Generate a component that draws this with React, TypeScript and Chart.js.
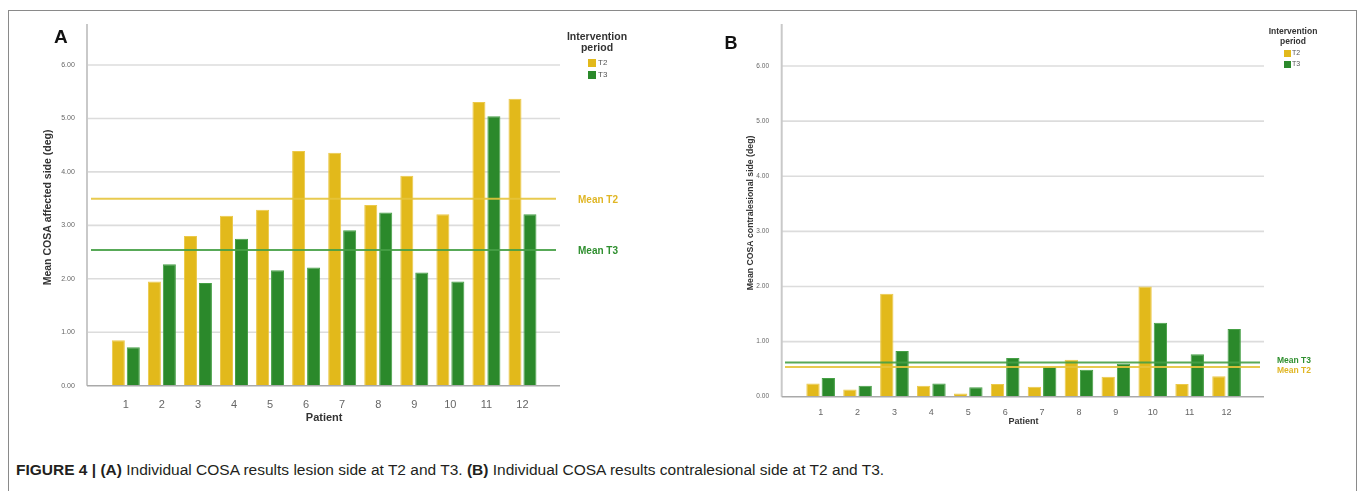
import React, { useEffect, useRef } from 'react';
import { Chart, registerables } from 'chart.js';

Chart.register(...registerables);

const FONT = "'Liberation Sans', Arial, Helvetica, sans-serif";
Chart.defaults.font.family = FONT;

// ---------- data ----------
const patients = ['1', '2', '3', '4', '5', '6', '7', '8', '9', '10', '11', '12'];
const seriesNames = ['T2', 'T3'];
const affectedT2 = [0.85, 1.95, 2.8, 3.18, 3.29, 4.39, 4.36, 3.38, 3.93, 3.21, 5.31, 5.37];
const affectedT3 = [0.72, 2.27, 1.92, 2.75, 2.16, 2.21, 2.91, 3.24, 2.12, 1.95, 5.04, 3.21];
const contraT2 = [0.24, 0.13, 1.87, 0.2, 0.06, 0.23, 0.18, 0.67, 0.36, 2.0, 0.23, 0.37];
const contraT3 = [0.34, 0.2, 0.83, 0.24, 0.17, 0.7, 0.54, 0.49, 0.6, 1.34, 0.77, 1.23];
const affectedMeans = [3.5, 2.54];
const contraMeans = [0.54, 0.62];
const meanLabels = ['Mean T2', 'Mean T3'];
const yTicks = [0, 1, 2, 3, 4, 5, 6];
const legendTitle = ['Intervention', 'period'];
const yTitleA = 'Mean COSA affected side (deg)';
const yTitleB = 'Mean COSA contralesional side (deg)';
const xTitle = 'Patient';
const panelLetters = ['A', 'B'];

const COLORS = ['#e2b91b', '#2b892b'];
const BORDERS = ['#ecc94a', '#45a045'];
const MEAN_LINE = ['rgba(230,196,60,0.9)', 'rgba(70,160,70,0.9)'];
const MEAN_TEXT = ['#e0b625', '#2f8f2f'];

const decor = {
  id: 'decor',
  beforeDatasetsDraw(chart: any, _a: any, o: any) {
    const { ctx, chartArea } = chart;
    const y = chart.scales.y;
    ctx.save();
    ctx.strokeStyle = '#dcdcdc';
    ctx.lineWidth = 1.6;
    y.ticks.forEach((t: any) => {
      if (t.value === 0) return;
      const py = y.getPixelForValue(t.value);
      ctx.beginPath();
      ctx.moveTo(o.axisX, py);
      ctx.lineTo(o.gridRight, py);
      ctx.stroke();
    });
    ctx.strokeStyle = '#c9c9c9';
    ctx.lineWidth = 2;
    ctx.beginPath();
    ctx.moveTo(o.axisX, o.axisTop);
    ctx.lineTo(o.axisX, chartArea.bottom);
    ctx.stroke();
    ctx.restore();
  },
  afterDatasetsDraw(chart: any, _a: any, o: any) {
    const { ctx, chartArea } = chart;
    const y = chart.scales.y;
    ctx.save();
    ctx.strokeStyle = '#a9a9a9';
    ctx.lineWidth = 1.6;
    ctx.beginPath();
    ctx.moveTo(o.axisX, chartArea.bottom);
    ctx.lineTo(o.gridRight, chartArea.bottom);
    ctx.stroke();
    o.means.forEach((m: number, i: number) => {
      const py = y.getPixelForValue(m);
      ctx.strokeStyle = MEAN_LINE[i];
      ctx.lineWidth = 2;
      ctx.beginPath();
      ctx.moveTo(o.meanLeft, py);
      ctx.lineTo(o.meanRight, py);
      ctx.stroke();
      ctx.fillStyle = MEAN_TEXT[i];
      ctx.font = `bold ${o.meanFont}px ${FONT}`;
      ctx.textAlign = 'left';
      ctx.textBaseline = 'middle';
      ctx.fillText(meanLabels[i], o.meanTextX, py + o.meanDy[i]);
    });
    const L = o.legend;
    ctx.fillStyle = '#333';
    ctx.font = `bold ${L.titleFont}px ${FONT}`;
    ctx.textAlign = 'center';
    ctx.textBaseline = 'middle';
    legendTitle.forEach((t, i) => ctx.fillText(t, L.cx, L.titleY[i]));
    chart.data.datasets.forEach((ds: any, i: number) => {
      ctx.fillStyle = ds.backgroundColor;
      ctx.fillRect(L.swX, L.swY[i], L.sw, L.sh);
      ctx.fillStyle = '#555';
      ctx.font = `${L.labelFont}px ${FONT}`;
      ctx.textAlign = 'left';
      ctx.fillText(ds.label, L.labelX, L.swY[i] + L.sh / 2);
    });
    ctx.fillStyle = '#111';
    ctx.font = `bold ${o.letter.size}px ${FONT}`;
    ctx.textAlign = 'left';
    ctx.textBaseline = 'alphabetic';
    ctx.fillText(o.letter.text, o.letter.x, o.letter.y);
    ctx.restore();
  },
};

function makeConfig(p: any) {
  return {
    type: 'bar',
    data: {
      labels: patients,
      datasets: p.series.map((vals: number[], i: number) => ({
        label: seriesNames[i],
        data: vals,
        backgroundColor: COLORS[i],
        borderColor: BORDERS[i],
        borderWidth: 1,
        categoryPercentage: 0.83,
        barPercentage: 0.87,
      })),
    },
    options: {
      responsive: false,
      animation: false,
      devicePixelRatio: 1,
      layout: { padding: { left: 0, top: p.top, right: p.right, bottom: p.bottom } },
      plugins: {
        legend: { display: false },
        tooltip: { enabled: false },
        decor: p.decor,
      },
      scales: {
        x: {
          type: 'category',
          offset: true,
          grid: { display: false },
          border: { display: false },
          afterFit: (s: any) => { s.height = p.xHeight; },
          ticks: { color: '#666', font: { size: p.xTickFont }, padding: p.xTickPad, maxRotation: 0 },
          title: {
            display: true,
            text: xTitle,
            color: '#333',
            font: { size: p.xTitleFont, weight: 'bold' },
            padding: { top: 0, bottom: p.xTitlePad },
          },
        },
        y: {
          min: 0,
          max: 6.67,
          grid: { display: false },
          border: { display: false },
          afterFit: (s: any) => { s.width = p.yWidth; },
          afterBuildTicks: (s: any) => { s.ticks = yTicks.map((v) => ({ value: v })); },
          ticks: {
            color: '#666',
            font: { size: p.yTickFont },
            padding: p.yTickPad,
            callback: (v: any) => Number(v).toFixed(2),
          },
          title: {
            display: true,
            text: p.yTitle,
            color: '#333',
            font: { size: p.yTitleFont, weight: 'bold' },
            padding: { top: p.yTitlePad, bottom: 0 },
          },
        },
      },
    },
    plugins: [decor],
  };
}

const panelA = {
  series: [affectedT2, affectedT3],
  top: 24,
  right: 139.5,
  bottom: 14.3,
  xHeight: 40,
  xTickFont: 11,
  xTickPad: 4.7,
  xTitleFont: 11,
  xTitlePad: 1.1,
  yWidth: 107.8,
  yTickFont: 7,
  yTickPad: 25,
  yTitle: yTitleA,
  yTitleFont: 10.5,
  yTitlePad: 42,
  decor: {
    axisX: 87,
    axisTop: 24,
    gridRight: 560,
    means: affectedMeans,
    meanLeft: 91,
    meanRight: 556,
    meanTextX: 578,
    meanDy: [1.5, 1.5],
    meanFont: 10,
    legend: { cx: 597, titleY: [37, 48], titleFont: 10.5, swX: 588, swY: [59, 71], sw: 8, sh: 8, labelX: 598, labelFont: 8 },
    letter: { text: panelLetters[0], x: 54, y: 43, size: 19 },
  },
};

const panelB = {
  series: [contraT2, contraT3],
  top: 24,
  right: 113,
  bottom: 13.3,
  xHeight: 30,
  xTickFont: 9,
  xTickPad: 2.9,
  xTitleFont: 9,
  xTitlePad: 0,
  yWidth: 122.2,
  yTickFont: 6.5,
  yTickPad: 25.2,
  yTitle: yTitleB,
  yTitleFont: 8.7,
  yTitlePad: 65.8,
  decor: {
    axisX: 101.7,
    axisTop: 24,
    gridRight: 584,
    means: contraMeans,
    meanLeft: 105,
    meanRight: 580,
    meanTextX: 597,
    meanDy: [4, -2],
    meanFont: 8.5,
    legend: { cx: 613, titleY: [32, 41.5], titleFont: 8.5, swX: 604, swY: [50, 61], sw: 7, sh: 7, labelX: 612, labelFont: 7 },
    letter: { text: panelLetters[1], x: 44.5, y: 48.5, size: 18 },
  },
};

function Panel({ cfg, left, width }: { cfg: any; left: number; width: number }) {
  const ref = useRef<HTMLCanvasElement | null>(null);
  useEffect(() => {
    if (!ref.current) return;
    const chart = new Chart(ref.current, makeConfig(cfg) as any);
    return () => chart.destroy();
  }, [cfg]);
  return (
    <canvas
      ref={ref}
      width={width}
      height={440}
      style={{ position: 'absolute', left, top: 0, width, height: 440 }}
    />
  );
}

export default function App() {
  return (
    <div
      style={{
        position: 'fixed',
        left: 0,
        top: 0,
        width: 1358,
        height: 491,
        overflow: 'hidden',
        background: '#fff',
        fontFamily: FONT,
      }}
    >
      <div
        style={{
          position: 'absolute',
          left: 8,
          top: 10,
          width: 1349,
          height: 520,
          boxSizing: 'border-box',
          border: '1.5px solid #8a8a8a',
        }}
      />
      <Panel cfg={panelA} left={0} width={680} />
      <Panel cfg={panelB} left={680} width={678} />
      <div
        style={{
          position: 'absolute',
          left: 16,
          top: 461,
          fontSize: 15.5,
          lineHeight: '18px',
          color: '#231f20',
          whiteSpace: 'nowrap',
        }}
      >
        <b>FIGURE 4 | (A)</b> Individual COSA results lesion side at T2 and T3. <b>(B)</b> Individual COSA
        results contralesional side at T2 and T3.
      </div>
    </div>
  );
}
